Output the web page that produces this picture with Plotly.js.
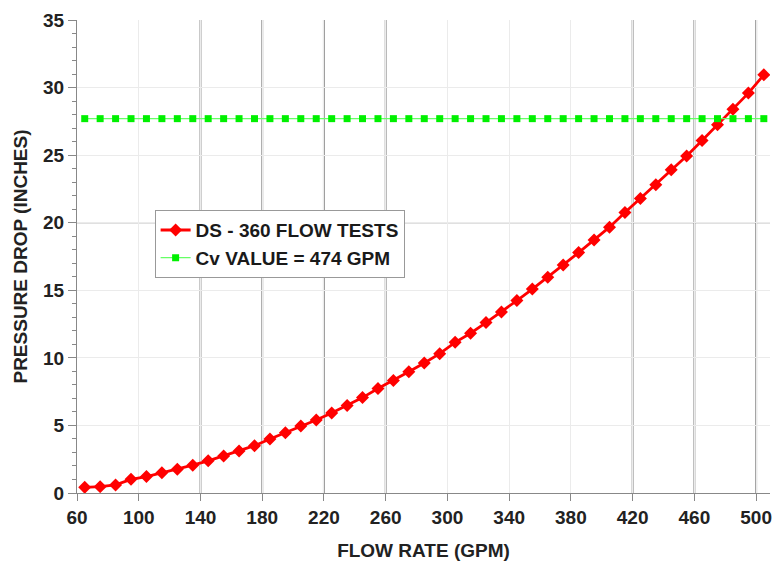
<!DOCTYPE html>
<html>
<head>
<meta charset="utf-8">
<script src="https://cdn.plot.ly/plotly-3.0.1.min.js"></script>
<style>html,body{margin:0;padding:0;background:#fff;}#chart{width:779px;height:567px;}</style>
</head>
<body>
<div id="chart"></div>
<script>
const flowRate = [65,75,85,95,105,115,125,135,145,155,165,175,185,195,205,215,225,235,245,255,265,275,285,295,305,315,325,335,345,355,365,375,385,395,405,415,425,435,445,455,465,475,485,495,505];
const pressureDrop = [0.42,0.47,0.60,1.01,1.22,1.50,1.76,2.06,2.38,2.74,3.10,3.50,4.00,4.45,4.95,5.40,5.92,6.47,7.06,7.73,8.33,8.97,9.62,10.31,11.15,11.82,12.61,13.40,14.24,15.09,15.96,16.88,17.79,18.73,19.67,20.75,21.80,22.80,23.91,24.94,26.08,27.24,28.40,29.59,30.94];
const cvValue = [27.7,27.7,27.7,27.7,27.7,27.7,27.7,27.7,27.7,27.7,27.7,27.7,27.7,27.7,27.7,27.7,27.7,27.7,27.7,27.7,27.7,27.7,27.7,27.7,27.7,27.7,27.7,27.7,27.7,27.7,27.7,27.7,27.7,27.7,27.7,27.7,27.7,27.7,27.7,27.7,27.7,27.7,27.7,27.7,27.7];
const xTicks = [60,100,140,180,220,260,300,340,380,420,460,500];
const darkGridX = [140,180,220,260,420,460,500];
const darkGridY = [20];
const seriesNames = ["DS - 360 FLOW TESTS", "Cv VALUE = 474 GPM"];

const fontFam = "Liberation Sans, Arial, sans-serif";
const shapes = [];
darkGridX.forEach(v => shapes.push({type:'line', xref:'x', yref:'paper', x0:v, x1:v, y0:0, y1:1, layer:'below', line:{color:'#9a9a9a', width:2}}));
darkGridY.forEach(v => shapes.push({type:'line', xref:'paper', yref:'y', x0:0, x1:1, y0:v, y1:v, layer:'below', line:{color:'#666666', width:1}}));

const traces = [
  {x: flowRate, y: pressureDrop, name: seriesNames[0], type:'scatter', mode:'lines+markers',
   line:{color:'#ff0000', width:2.8}, marker:{symbol:'diamond', size:10, color:'#ff0000'}},
  {x: flowRate, y: cvValue, name: seriesNames[1], type:'scatter', mode:'lines+markers',
   line:{color:'#66ff66', width:1.2}, marker:{symbol:'square', size:7, color:'#00f000'}}
];

const layout = {
  width: 779, height: 567,
  margin: {l:77, r:9, t:20, b:74},
  paper_bgcolor:'#ffffff', plot_bgcolor:'#ffffff',
  showlegend: true,
  legend: {x:0.112, y:0.598, xanchor:'left', yanchor:'top', bgcolor:'#ffffff', bordercolor:'#999999', borderwidth:1,
    font:{family:fontFam, size:19, color:'#1a1a1a', weight:'bold'}, tracegroupgap:0},
  xaxis: {range:[60,509], tickvals:xTicks, ticktext:xTicks.map(String), showgrid:true, gridcolor:'#ebebeb', gridwidth:1,
    zeroline:false, showline:true, linecolor:'#888888', linewidth:1, ticks:'outside', ticklen:7, tickcolor:'#888888',
    tickfont:{family:fontFam, size:19, color:'#222222', weight:'bold'},
    title:{text:'FLOW RATE (GPM)', font:{family:fontFam, size:19, color:'#222222', weight:'bold'}, standoff:16}},
  yaxis: {range:[0,35], dtick:5, tick0:0, showgrid:true, gridcolor:'#ebebeb', gridwidth:1,
    zeroline:false, showline:true, linecolor:'#888888', linewidth:1, ticks:'outside', ticklen:8, tickcolor:'#888888',
    minor:{dtick:1, ticks:'outside', ticklen:4, tickcolor:'#888888', showgrid:false},
    tickfont:{family:fontFam, size:19, color:'#222222', weight:'bold'},
    title:{text:'PRESSURE DROP (INCHES)', font:{family:fontFam, size:19, color:'#222222', weight:'bold'}, standoff:10}},
  shapes: shapes
};

Plotly.newPlot('chart', traces, layout, {displayModeBar:false, staticPlot:true});
</script>
</body>
</html>
